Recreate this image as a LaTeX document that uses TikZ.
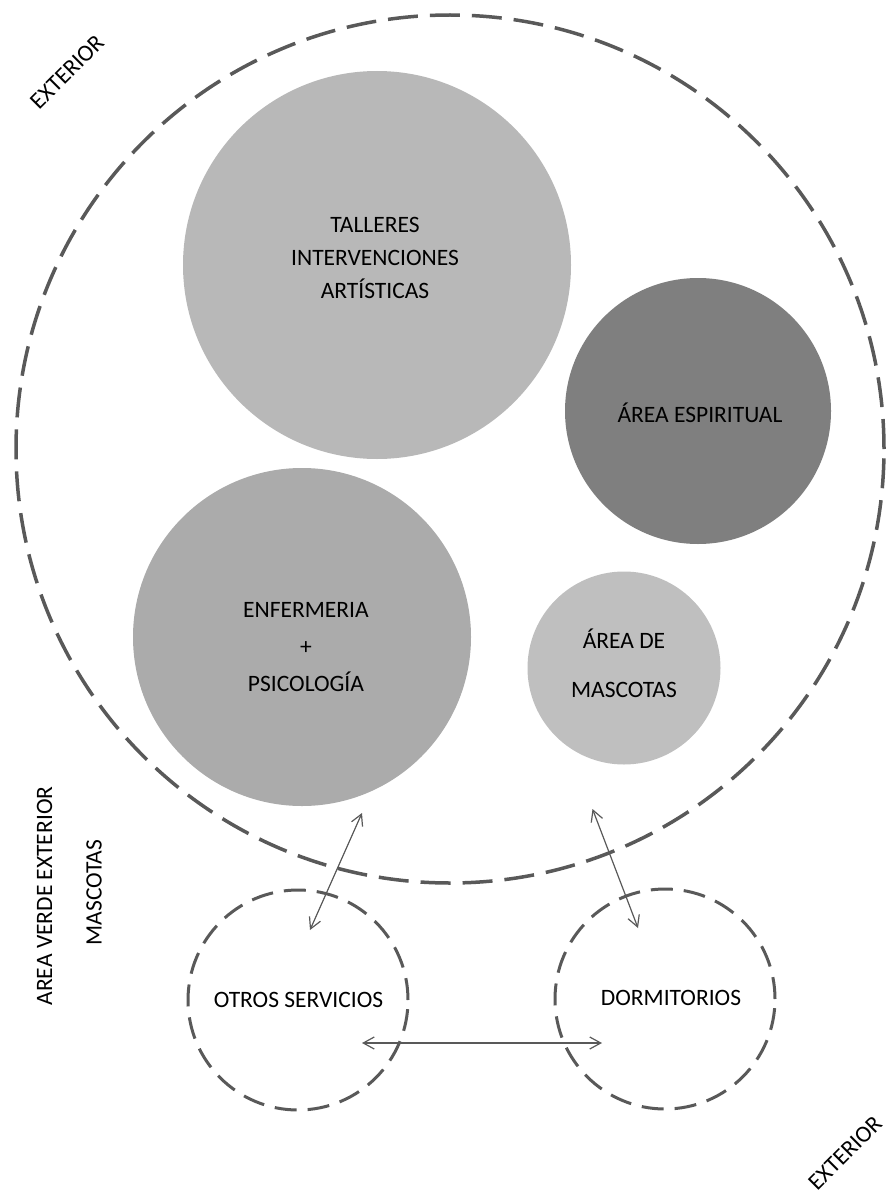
\documentclass[tikz,border=0pt]{standalone}
\usepackage{fontspec}
\setmainfont{Carlito}
\usetikzlibrary{arrows.meta}
\definecolor{dashgray}{HTML}{595959}
\definecolor{lightfill}{HTML}{B8B8B8}
\definecolor{darkfill}{HTML}{7F7F7F}
\definecolor{midfill}{HTML}{ABABAB}
\definecolor{petfill}{HTML}{BFBFBF}
\tikzset{
  zone/.style={circle, inner sep=0pt, draw=none},
  bigdash/.style={draw=dashgray, line width=3.5pt, dash pattern=on 30pt off 12pt},
  smalldash/.style={draw=dashgray, line width=3pt, dash pattern=on 22pt off 11pt},
  lbl/.style={font=\fontsize{23.5}{28}\selectfont, text=black, inner sep=0pt},
  conn/.style={draw=dashgray, line width=1.2pt, {Straight Barb[length=11pt,width=12pt]}-{Straight Barb[length=11pt,width=12pt]}}
}
\begin{document}
\begin{tikzpicture}[x=1pt,y=-1pt]
\useasboundingbox (0,0) rectangle (888,1196);
% outer dashed boundary
\node[zone, bigdash, minimum size=868pt] (outer) at (450,449) {};
% filled zones
\node[zone, fill=lightfill, minimum size=388pt] (talleres) at (377,265) {};
\node[zone, fill=darkfill, minimum size=266pt] (espiritual) at (698,411) {};
\node[zone, fill=midfill, minimum size=338pt] (enfermeria) at (302,637) {};
\node[zone, fill=petfill, minimum size=193pt] (mascotas) at (624,668) {};
% lower dashed zones
\node[zone, smalldash, minimum size=220pt] (otros) at (298,1000) {};
\node[zone, smalldash, minimum size=220pt] (dormitorios) at (665,999) {};
% labels
\node[lbl, align=center, font=\fontsize{23.5}{33}\selectfont] (talleresT) at (375,258) {TALLERES\\INTERVENCIONES\\ARTÍSTICAS};
\node[lbl, anchor=base] (espiritualT) at (700,422.5) {ÁREA ESPIRITUAL};
\node[lbl, align=center, font=\fontsize{23.5}{37}\selectfont] (enfermeriaT) at (306,647.5) {ENFERMERIA\\+\\PSICOLOGÍA};
\node[lbl, align=center, font=\fontsize{23.5}{49}\selectfont] (mascotasT) at (624,663) {ÁREA DE\\MASCOTAS};
\node[lbl, anchor=base] (otrosT) at (298.5,1007.5) {OTROS SERVICIOS};
\node[lbl, anchor=base] (dormitoriosT) at (671,1005.5) {DORMITORIOS};
\node[lbl, rotate=45] (ext1) at (67,72) {EXTERIOR};
\node[lbl, rotate=45] (ext2) at (845,1153) {EXTERIOR};
\node[lbl, rotate=90] (verde) at (44.5,896) {AREA VERDE EXTERIOR};
\node[lbl, rotate=90] (verdeM) at (94,892.5) {MASCOTAS};
% connector end points
\coordinate (a1top) at (362,813);
\coordinate (a1bot) at (310,930);
\coordinate (a2top) at (592.5,809);
\coordinate (a2bot) at (638,928);
\coordinate (a3left) at (362,1043);
\coordinate (a3right) at (602,1043);
\draw[conn] (a1top) -- (a1bot);
\draw[conn] (a2top) -- (a2bot);
\draw[conn] (a3left) -- (a3right);
\end{tikzpicture}
\end{document}
